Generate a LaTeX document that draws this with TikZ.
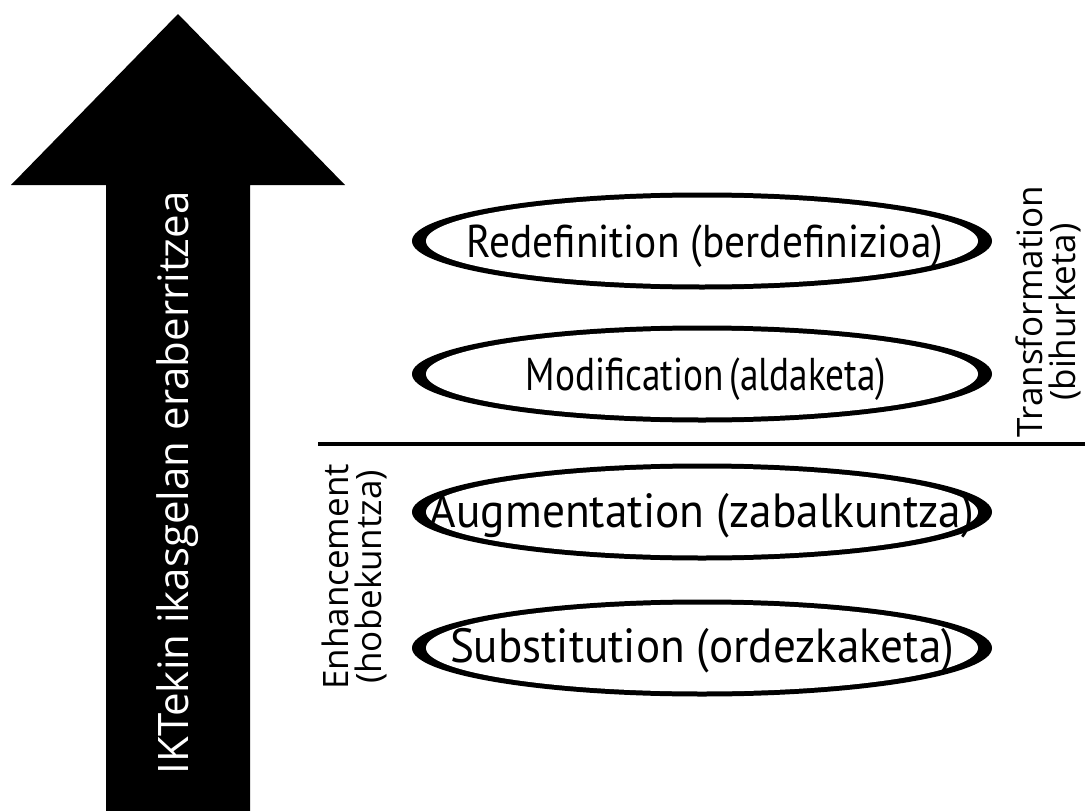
\documentclass[tikz,border=0pt]{standalone}
\usepackage{fontspec}
\setmainfont{Open Sans}
\newfontfamily\ellfont{PT Sans}
\usetikzlibrary{shapes.geometric}
\tikzset{
  outerell/.style={ellipse, fill=black, inner sep=0pt, minimum width=580pt, minimum height=97pt},
  ellabel/.style={inner sep=0pt, anchor=base, font=\ellfont\fontsize{46}{50}\selectfont},
  sidelabel/.style={font=\fontsize{35}{33}\selectfont, rotate=90, align=center, inner sep=0pt},
}
\begin{document}
\begin{tikzpicture}[x=1pt,y=-1pt]
\useasboundingbox (0,0) rectangle (1085,811);
\fill[white] (0,0) rectangle (1085,811);
% big arrow
\fill[black] (106,812) -- (106,185) -- (11,185) -- (178,14) -- (345,185) -- (250,185) -- (250,812) -- cycle;
\node[text=white, rotate=90, font=\fontsize{42}{46}\selectfont, inner sep=0pt] (arrowtext) at (178,483) {IKTekin ikasgelan eraberritzea};
% separator
\coordinate (lineL) at (318,444);
\coordinate (lineR) at (1085,444);
\draw[line width=4pt] (lineL) -- (lineR);
% ellipses
\foreach \n/\yy in {r/241, m/374, a/512, s/648} {
  \node[outerell] (\n) at (702,\yy) {};
  \fill[white] (\n.center) ellipse [x radius=276pt, y radius=43.5pt];
}
\node[ellabel] (rt) at (705,257) {\scalebox{0.9}[1]{Redefinition (berdefinizioa)}};
\node[ellabel] (mt) at (706,390) {\scalebox{0.81}[1]{Modification\,(aldaketa)}};
\node[ellabel, font=\ellfont\fontsize{48}{52}\selectfont] (at) at (702,527) {\scalebox{0.945}[1]{Augmentation (zabalkuntza)}};
\node[ellabel, font=\ellfont\fontsize{48}{52}\selectfont] (st) at (702,662) {\scalebox{0.94}[1]{Substitution (ordezkaketa)}};
% side labels
\node[sidelabel] (tr) at (1048,312) {Transformation\\(bihurketa)};
\node[sidelabel] (en) at (354,577) {Enhancement\\(hobekuntza)};
\end{tikzpicture}
\end{document}
